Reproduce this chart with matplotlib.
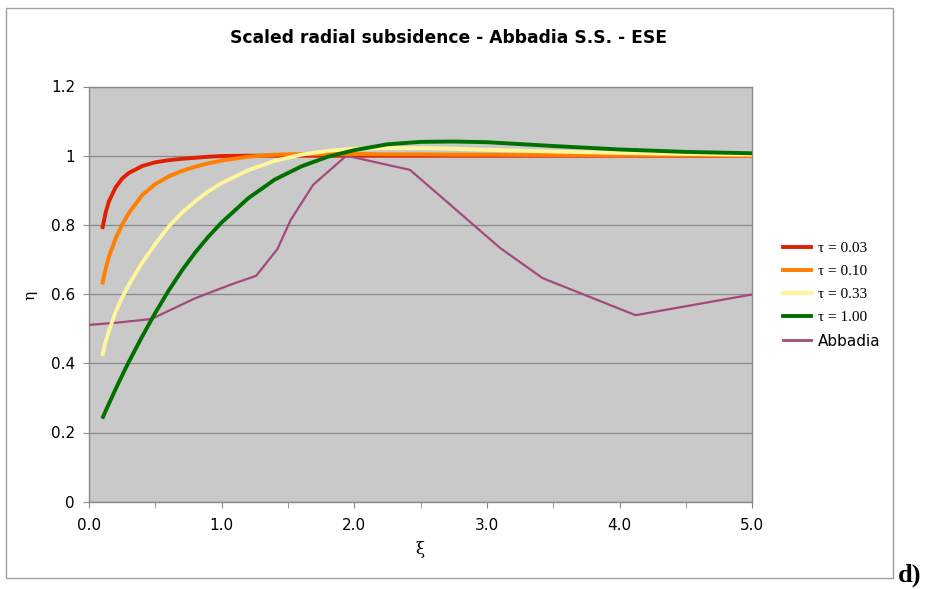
import matplotlib
matplotlib.use("Agg")
import matplotlib.pyplot as plt
from matplotlib.patches import Rectangle
from matplotlib.lines import Line2D
from matplotlib.ticker import MultipleLocator, FixedLocator

# ---- data ----
xi_tau = [0.1, 0.125, 0.15, 0.2, 0.25, 0.3, 0.4, 0.5, 0.6, 0.7, 0.8, 0.9, 1.0, 1.2, 1.4,
          1.6, 1.8, 2.0, 2.25, 2.5, 2.75, 3.0, 3.5, 4.0, 4.5, 5.0]
eta_t003 = [0.788, 0.835, 0.868, 0.908, 0.934, 0.950, 0.970, 0.981, 0.987, 0.991, 0.994,
            0.997, 0.999, 1.000, 1.000, 1.000, 1.000, 1.000, 1.000, 1.000, 1.000, 1.000,
            1.000, 1.000, 1.000, 1.000]
eta_t010 = [0.628, 0.672, 0.708, 0.760, 0.801, 0.834, 0.886, 0.918, 0.940, 0.956, 0.968,
            0.978, 0.986, 0.997, 1.003, 1.005, 1.005, 1.005, 1.004, 1.004, 1.003, 1.003,
            1.002, 1.001, 1.001, 1.000]
eta_t033 = [0.421, 0.462, 0.493, 0.548, 0.590, 0.627, 0.690, 0.745, 0.795, 0.835, 0.868,
            0.897, 0.921, 0.958, 0.985, 1.003, 1.014, 1.020, 1.022, 1.022, 1.020, 1.017,
            1.012, 1.008, 1.005, 1.003]
eta_t100 = [0.240, 0.262, 0.283, 0.325, 0.365, 0.404, 0.477, 0.546, 0.610, 0.668, 0.720,
            0.766, 0.807, 0.877, 0.931, 0.969, 0.997, 1.016, 1.033, 1.040, 1.041, 1.039,
            1.028, 1.018, 1.011, 1.007]
xi_abb = [0.0, 0.2, 0.47, 0.8, 1.08, 1.26, 1.42, 1.52, 1.69, 1.94, 2.42, 3.1, 3.42, 4.12, 5.0]
eta_abb = [0.511, 0.517, 0.528, 0.588, 0.629, 0.653, 0.730, 0.814, 0.916, 1.000, 0.959,
           0.733, 0.646, 0.539, 0.599]

labels = ["τ = 0.03", "τ = 0.10", "τ = 0.33", "τ = 1.00", "Abbadia"]
title = "Scaled radial subsidence - Abbadia S.S. - ESE"
x_ticks = [0, 1, 2, 3, 4, 5]
x_ticklabels = ["0.0", "1.0", "2.0", "3.0", "4.0", "5.0"]
y_ticks = [0, 0.2, 0.4, 0.6, 0.8, 1.0, 1.2]
y_ticklabels = ["0", "0.2", "0.4", "0.6", "0.8", "1", "1.2"]

colors = ["#e02000", "#ff8000", "#fff59a", "#007000", "#a34a7c"]
widths = [2.8, 2.8, 2.8, 2.8, 1.6]

W, H = 928, 589
fig = plt.figure(figsize=(W / 100, H / 100), dpi=100)
fig.patch.set_facecolor("white")

# outer chart border
fig.patches.append(Rectangle((6 / W, 1 - 578 / H), (893 - 6) / W, (578 - 8) / H,
                             transform=fig.transFigure, fill=False,
                             edgecolor="#a0a0a0", linewidth=1.0))

ax = fig.add_axes([89 / W, 1 - 501.7 / H, (752.3 - 89) / W, (501.7 - 86.5) / H])
ax.set_facecolor("#c9c9c9")

series = [eta_t003, eta_t010, eta_t033, eta_t100]
for i, ys in enumerate(series):
    ax.plot(xi_tau, ys, color=colors[i], lw=widths[i], solid_capstyle="butt",
            solid_joinstyle="round", zorder=3 + i)
ax.plot(xi_abb, eta_abb, color=colors[4], lw=widths[4], zorder=3,
        solid_joinstyle="round")

ax.set_xlim(0, 5)
ax.set_ylim(0, 1.2)
ax.xaxis.set_major_locator(FixedLocator(x_ticks))
ax.set_xticklabels(x_ticklabels)
ax.xaxis.set_minor_locator(MultipleLocator(0.5))
ax.set_yticks(y_ticks)
ax.set_yticklabels(y_ticklabels)
ax.yaxis.grid(True, color="#888888", lw=0.9)
ax.set_axisbelow(True)
for s in ax.spines.values():
    s.set_color("#8a8a8a")
    s.set_linewidth(1.0)
ax.tick_params(axis="both", which="both", direction="out", length=4,
               color="#8a8a8a", labelsize=11, labelcolor="black")
ax.tick_params(axis="x", pad=8)
ax.tick_params(axis="y", pad=6)

fig.text(449 / W, 1 - 38 / H, title, ha="center", va="center",
         fontsize=12.3, fontweight="bold")
fig.text(30 / W, 1 - 295 / H, "η", ha="center", va="center", fontsize=11,
         rotation=90, family="DejaVu Serif")
fig.text(420 / W, 1 - 549 / H, "ξ", ha="center", va="center", fontsize=12,
         family="DejaVu Serif")
fig.text(898 / W, 1 - 582 / H, "d)", ha="left", va="baseline", fontsize=19,
         fontweight="bold", family="Liberation Serif")

# legend
handles = [Line2D([], [], color=colors[i], lw=widths[i] if i < 4 else 2.0) for i in range(5)]
leg = fig.legend(handles, labels, loc="upper left",
                 bbox_to_anchor=(783 / W, 1 - 241.5 / H), frameon=False,
                 handlelength=1.85, handletextpad=0.45, labelspacing=0.61,
                 fontsize=11, borderaxespad=0, borderpad=0)
for t in leg.get_texts()[:4]:
    t.set_family("Liberation Serif")
leg.get_texts()[4].set_family("DejaVu Sans")

fig.savefig("out.png", dpi=100)
